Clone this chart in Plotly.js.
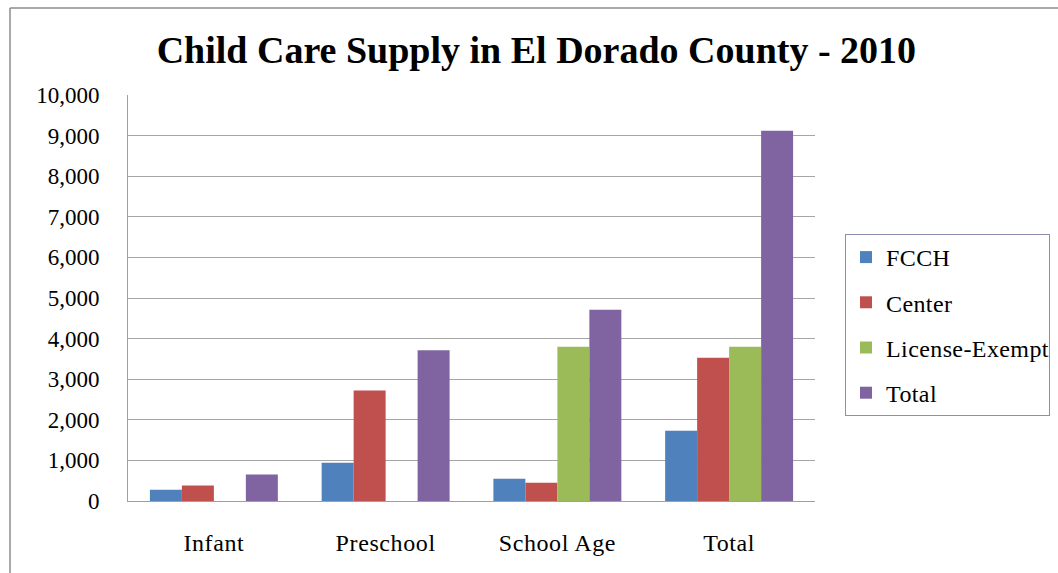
<!DOCTYPE html>
<html>
<head>
<meta charset="utf-8">
<script src="https://cdn.plot.ly/plotly-3.0.1.min.js"></script>
<style>
  html, body { margin: 0; padding: 0; background: #ffffff; }
  #chart { width: 1058px; height: 573px; }
  #chart .xtick text { letter-spacing: 0.6px; }
  #chart .legendtext { letter-spacing: 0.4px; }
</style>
</head>
<body>
<div id="chart"></div>
<script>
// Age groups along the x axis
const categories = ["Infant", "Preschool", "School Age", "Total"];

// Licensed / exempt child care slots by provider type
const fcch          = [280, 940, 550, 1730];
const center        = [380, 2720, 450, 3530];
const licenseExempt = [null, null, 3800, 3800];
const total         = [650, 3710, 4710, 9120];

const yTicks = [0, 1000, 2000, 3000, 4000, 5000, 6000, 7000, 8000, 9000, 10000];

const serif = "'Liberation Serif', 'Times New Roman', serif";

function barTrace(name, values, color, group) {
  return {
    type: "bar",
    name: name,
    x: categories,
    y: values,
    legendgroup: group,
    marker: { color: color, line: { width: 0 } },
    hoverinfo: "skip"
  };
}

const data = [
  barTrace("FCCH", fcch, "#4F81BD", "a"),
  barTrace("Center", center, "#C0504D", "b"),
  barTrace("License-Exempt", licenseExempt, "#9BBB59", "c"),
  barTrace("Total", total, "#8064A2", "d")
];

// Outer frame of the chart area (top and left edges)
const frameColor = "#8c8c8c";
const frameX = (10 - 128) / 687;
const frameY = (501 - 8) / 406;

const layout = {
  width: 1058,
  height: 573,
  margin: { l: 128, r: 243, t: 95, b: 72, autoexpand: false },
  paper_bgcolor: "#ffffff",
  plot_bgcolor: "#ffffff",
  font: { family: serif, color: "#000000", size: 23 },
  title: {
    text: "<b>Child Care Supply in El Dorado County - 2010</b>",
    font: { family: serif, size: 38, color: "#000000" },
    xref: "container", yref: "container",
    x: 0.507, xanchor: "center",
    y: 0.913, yanchor: "middle"
  },
  barmode: "group",
  bargap: 0.255,
  bargroupgap: 0,
  xaxis: {
    type: "category",
    showgrid: false,
    showline: true,
    linecolor: "#a0a0a0",
    linewidth: 1,
    ticks: "",
    ticklabelstandoff: 20,
    tickfont: { family: serif, size: 24, color: "#000000" }
  },
  yaxis: {
    range: [0, 10000],
    tickvals: yTicks,
    tickformat: ",d",
    showgrid: true,
    gridcolor: "#a6a6a6",
    gridwidth: 1,
    zeroline: false,
    showline: true,
    linecolor: "#a0a0a0",
    linewidth: 1,
    ticks: "",
    ticklabelstandoff: 23,
    tickfont: { family: serif, size: 23, color: "#000000" }
  },
  showlegend: true,
  legend: {
    x: (845 - 128) / 687,
    xanchor: "left",
    y: (501 - 234) / 406,
    yanchor: "top",
    bgcolor: "#ffffff",
    bordercolor: "#8e8eb5",
    borderwidth: 1,
    traceorder: "grouped",
    tracegroupgap: 11,
    font: { family: serif, size: 24, color: "#000000" }
  },
  shapes: [
    { type: "line", xref: "paper", yref: "paper", x0: frameX, x1: 2, y0: frameY, y1: frameY,
      line: { color: frameColor, width: 1.5 } },
    { type: "line", xref: "paper", yref: "paper", x0: frameX, x1: frameX, y0: frameY, y1: -1,
      line: { color: frameColor, width: 1.5 } }
  ]
};

Plotly.newPlot("chart", data, layout, { displayModeBar: false, staticPlot: true });
</script>
</body>
</html>
